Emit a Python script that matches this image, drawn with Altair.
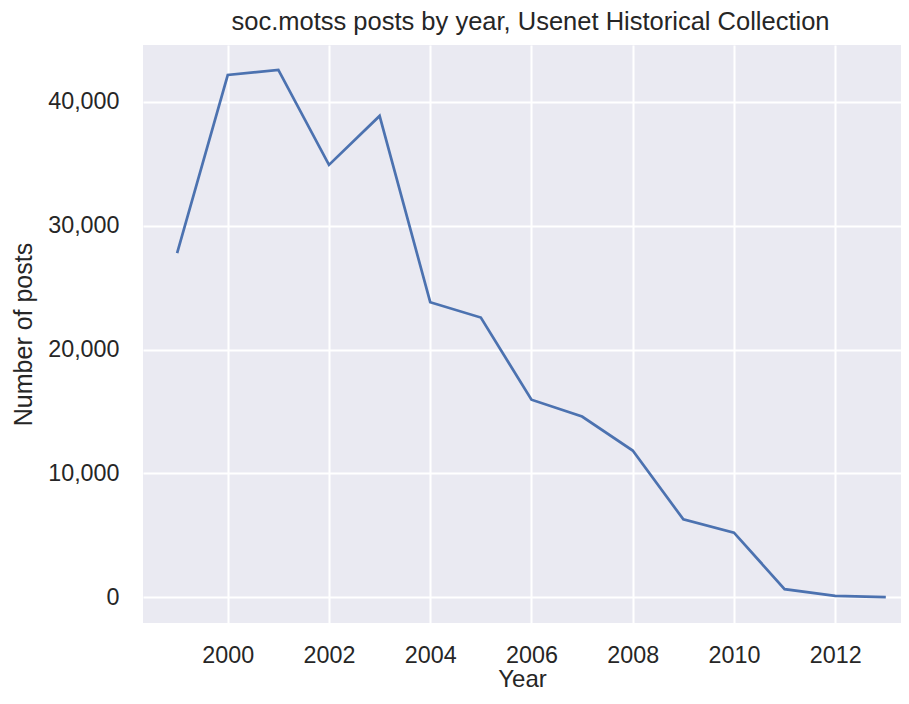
import altair as alt
import pandas as pd

years = [1999, 2000, 2001, 2002, 2003, 2004, 2005, 2006, 2007, 2008, 2009, 2010, 2011, 2012, 2013]
posts = [27780, 42150, 42560, 34900, 38850, 23820, 22580, 15950, 14590, 11850, 6300, 5230, 670, 130, 30]

y_ticks = [0, 10000, 20000, 30000, 40000]
x_ticks = [2000, 2002, 2004, 2006, 2008, 2010, 2012]

df = pd.DataFrame({"Year": years, "Posts": posts})

FONT = "Liberation Sans"
TXT = "#262626"

chart = alt.Chart(df).mark_line(color="#4C72B0", strokeWidth=2.7, clip=True).encode(
    x=alt.X("Year:Q",
            scale=alt.Scale(domain=[1998.326, 2013.30], nice=False, zero=False),
            axis=alt.Axis(values=x_ticks, format="d", title="Year",
                          labelPadding=21, titlePadding=1, titleFontSize=24)),
    y=alt.Y("Posts:Q",
            scale=alt.Scale(domain=[-2064, 44571], nice=False, zero=False),
            axis=alt.Axis(values=y_ticks, format=",.0f", title="Number of posts",
                          labelPadding=24, titlePadding=11)),
).properties(
    width=758, height=578,
    title=alt.Title("soc.motss posts by year, Usenet Historical Collection",
                    fontSize=25.5, font=FONT, fontWeight="normal", color=TXT,
                    offset=10, dx=8.5),
    autosize=alt.AutoSizeParams(type="none"),
    padding={"left": 135, "top": 37, "right": 0, "bottom": 73},
    background="white",
).configure_view(
    fill="#EAEAF2", stroke=None
).configure_axis(
    grid=True, gridColor="white", gridWidth=2, domain=False, ticks=False,
    labelFont=FONT, titleFont=FONT, labelFontSize=23.3, titleFontSize=25,
    labelColor=TXT, titleColor=TXT, titleFontWeight="normal",
)

chart.save("out.html", embed_options={"renderer": "svg", "actions": False})
